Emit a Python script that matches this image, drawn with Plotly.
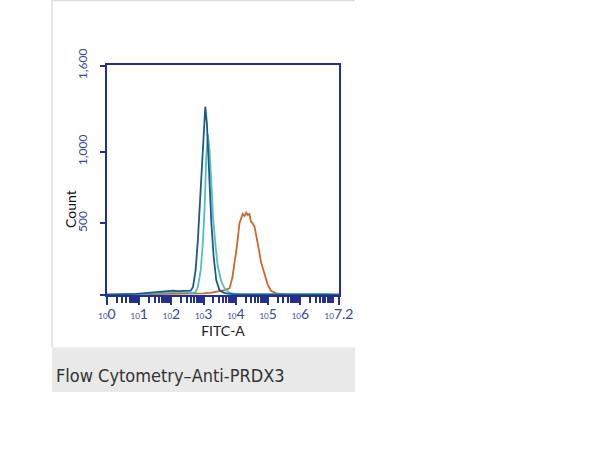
import plotly.graph_objects as go

# ---- data (log10 FITC-A position, count) ----
dark_log = [0.0, 0.3, 0.6, 0.9, 1.1, 1.3, 1.5, 1.7, 1.9, 2.05, 2.2, 2.35, 2.5, 2.6, 2.67, 2.75, 2.82, 2.9, 2.96, 3.01, 3.05, 3.1, 3.16, 3.24, 3.31, 3.39, 3.49, 3.6, 3.7, 3.9, 4.2, 4.6, 5.0, 5.5, 6.0, 6.5, 7.0, 7.2]
dark_cnt = [2, 3, 4, 8, 11, 16, 20, 24, 28, 30, 27, 27, 25, 30, 57, 174, 383, 733, 1012, 1221, 1314, 1198, 849, 500, 267, 104, 34, 18, 11, 6, 4, 3, 3, 2, 3, 2, 2, 2]

teal_log = [0.0, 0.5, 1.0, 1.3, 1.6, 1.9, 2.1, 2.3, 2.5, 2.65, 2.75, 2.82, 2.91, 2.98, 3.03, 3.08, 3.13, 3.18, 3.24, 3.29, 3.37, 3.44, 3.55, 3.68, 3.85, 4.1, 4.5, 5.0, 5.5, 6.0, 6.3, 6.5, 6.8, 7.0, 7.2]
teal_cnt = [2, 3, 6, 10, 15, 20, 22, 20, 18, 15, 20, 57, 174, 383, 616, 965, 1121, 1012, 779, 546, 337, 197, 92, 34, 11, 6, 4, 5, 3, 4, 8, 5, 7, 3, 2]

orange_log = [0.0, 0.5, 1.0, 1.5, 2.0, 2.5, 2.7, 3.0, 3.2, 3.4, 3.55, 3.65, 3.8, 3.89, 3.96, 4.03, 4.11, 4.16, 4.21, 4.27, 4.32, 4.37, 4.42, 4.47, 4.52, 4.58, 4.63, 4.71, 4.78, 4.88, 4.99, 5.09, 5.25, 5.5, 6.0, 6.5, 7.0, 7.2]
orange_cnt = [2, 3, 4, 5, 5, 6, 7, 11, 15, 22, 28, 34, 46, 120, 230, 337, 500, 535, 565, 551, 574, 558, 565, 511, 500, 476, 406, 320, 230, 150, 70, 30, 12, 5, 3, 2, 2, 2]

x_tick_exps = ["0", "1", "2", "3", "4", "5", "6", "7.2"]
y_tick_vals = [0, 500, 1000, 1600]
y_tick_text = ["", "500", "1,000", "1,600"]

caption = "Flow Cytometry\u2013Anti-PRDX3"

NAVY = "#24308f"
LABEL = "#3a46a3"
FONT = "Lato, Open Sans, sans-serif"

fig = go.Figure()
for lg, cnt, col in [(orange_log, orange_cnt, "#c9692f"),
                     (teal_log, teal_cnt, "#52c0bf"),
                     (dark_log, dark_cnt, "#1d5a8b")]:
    fig.add_trace(go.Scatter(x=[10 ** v for v in lg], y=cnt, mode="lines",
                             line=dict(color=col, width=1.8), showlegend=False,
                             hoverinfo="skip"))

x_tick_vals = [10 ** float(e) for e in x_tick_exps]
x_tick_text = ["<span style='font-size:8px'>10</span><span style='font-size:14px'>%s</span>" % e
               for e in x_tick_exps]

fig.update_xaxes(type="log", range=[0, 7.2], showline=True, linecolor=NAVY, linewidth=2,
                 mirror=True, showgrid=False, zeroline=False,
                 ticks="outside", ticklen=8, tickwidth=2, tickcolor=NAVY,
                 tickvals=x_tick_vals, ticktext=x_tick_text, ticklabelstandoff=-3,
                 tickfont=dict(family=FONT, color=LABEL, size=14),
                 minor=dict(ticks="outside", ticklen=6, tickwidth=1.5, tickcolor=NAVY, dtick="D1", showgrid=False),
                 title=dict(text="FITC-A", font=dict(family=FONT, size=14, color="#222"),
                            standoff=3))
fig.update_yaxes(range=[0, 1605], showline=True, linecolor=NAVY, linewidth=2, mirror=True,
                 showgrid=False, zeroline=False, ticks="outside", ticklen=5, tickwidth=1.5,
                 tickcolor=NAVY, tickvals=y_tick_vals, ticktext=y_tick_text, tickangle=-90,
                 ticklabelstandoff=8,
                 tickfont=dict(family=FONT, color=LABEL, size=12))

shapes = [
    dict(type="rect", xref="paper", yref="paper", x0=-0.2371, x1=1.069, y0=-0.4217, y1=-0.2283,
         fillcolor="#e9e9e9", line=dict(width=0), layer="below"),
    dict(type="line", xref="paper", yref="paper", x0=-0.2371, x1=-0.2371, y0=-0.2283, y1=1.2826,
         line=dict(color="#dddddd", width=1.5)),
    dict(type="line", xref="paper", yref="paper", x0=-0.2371, x1=1.069, y0=1.2804, y1=1.2804,
         line=dict(color="#dddddd", width=1.5)),
]

annotations = [
    dict(text="Count", xref="paper", yref="paper", x=-0.1595, y=0.3739, showarrow=False,
         textangle=-90, font=dict(family=FONT, size=14, color="#111"),
         xanchor="center", yanchor="middle"),
    dict(text=caption, xref="paper", yref="paper", x=-0.2284, y=-0.352, showarrow=False,
         xanchor="left", yanchor="middle",
         font=dict(family="Liberation Sans Narrow, DejaVu Sans Condensed, Roboto, sans-serif", size=18, color="#333")),
]

fig.update_layout(width=600, height=450, margin=dict(l=107, r=261, t=65, b=155),
                  paper_bgcolor="white", plot_bgcolor="white",
                  shapes=shapes, annotations=annotations)

fig.write_html("out.html", config={"displayModeBar": False},
               post_script="document.body.style.margin='0';document.body.style.padding='0';")
